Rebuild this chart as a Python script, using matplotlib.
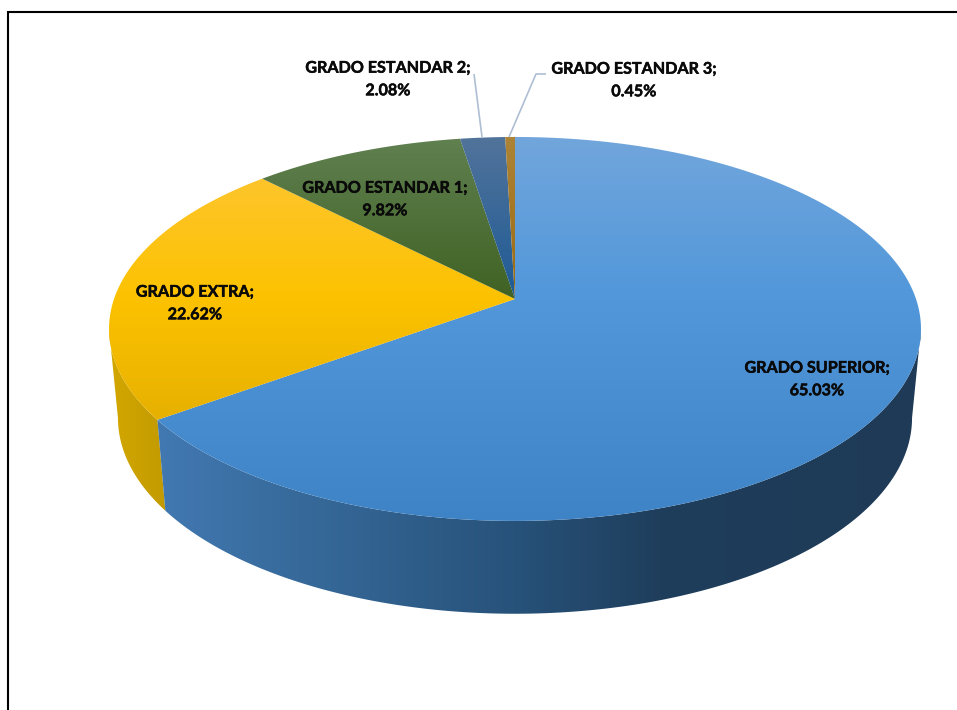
import numpy as np
import matplotlib
matplotlib.use("Agg")
import matplotlib.pyplot as plt
import matplotlib.patheffects as pe
from matplotlib.patches import Polygon
from matplotlib.colors import LinearSegmentedColormap, to_rgb

# ---- data ----
names = ["GRADO SUPERIOR", "GRADO EXTRA", "GRADO ESTANDAR 1", "GRADO ESTANDAR 2", "GRADO ESTANDAR 3"]
values = [65.03, 22.62, 9.82, 2.08, 0.45]

# ---- style ----
top_colors = [
    [(137, "#72a6dc"), (300, "#5197da"), (521, "#3e83c5")],
    [(179, "#fec52c"), (300, "#fcc200"), (421, "#e6b000")],
    [(140, "#608050"), (299, "#3f6223")],
    [(137, "#52749b"), (299, "#1d5a95")],
    [(137, "#ad8438"), (299, "#9c6a10")],
]
side_stops = [
    [(158, "#4279b2"), (300, "#376a9b"), (515, "#27527a"), (660, "#1f3e5c"), (921, "#1e3a56")],
    [(109, "#d4a800"), (165, "#c29a00")],
]
label_pos = [(817, 380), (195, 304), (385, 200), (388, 80), (634, 81)]
leaders = [None, None, None, [(474, 74), (482, 137)], [(546, 74), (536, 74), (509, 137)]]

# projective mapping of the pie disc onto the picture
CX, CY = 515.0, 299.0
A, B, K = 401.0, 187.3, 0.156
THETA_RIGHT = np.pi - np.arccos(K)   # where the rim reaches its rightmost point
THETA_LEFT = np.pi + np.arccos(K)    # and its leftmost point


def top_xy(theta):
    x, y = np.sin(theta), np.cos(theta)
    d = 1 + K * y
    return CX + A * x / d, CY - B * y / d


def bottom_xy(theta):
    X, Y = top_xy(theta)
    return 515 + (X - 515) * 0.978, 418 + (Y - 329) * 1.02


def ramp(stops, v):
    pos = [s[0] for s in stops]
    cols = np.array([to_rgb(s[1]) for s in stops])
    return [float(np.interp(v, pos, cols[:, i])) for i in range(3)]


def gradient_fill(ax, pts, stops, horizontal, zorder, name):
    poly = Polygon(pts, closed=True, facecolor="none", edgecolor="none")
    ax.add_patch(poly)
    lo, hi = stops[0][0], stops[-1][0]
    cmap = LinearSegmentedColormap.from_list(name, [ramp(stops, v) for v in np.linspace(lo, hi, 256)], N=1024)
    ramp01 = np.linspace(0, 1, 1024)
    if horizontal:
        data = ramp01[None, :]
        extent = (min(lo, pts[:, 0].min() - 2), max(hi, pts[:, 0].max() + 2),
                  pts[:, 1].max() + 2, pts[:, 1].min() - 2)
    else:
        data = ramp01[:, None]
        extent = (pts[:, 0].min() - 2, pts[:, 0].max() + 2, hi + 2, lo - 2)
    im = ax.imshow(data, cmap=cmap, extent=extent, aspect="auto", zorder=zorder, interpolation="bilinear")
    im.set_clip_path(poly)


fig = plt.figure(figsize=(9.57, 7.10), dpi=100, facecolor="white")
ax = fig.add_axes([0, 0, 1, 1])
ax.set_xlim(0, 957)
ax.set_ylim(710, 0)
ax.axis("off")

fractions = np.array(values) / np.sum(values)
edges = np.concatenate([[0], np.cumsum(fractions)]) * 2 * np.pi

# sides: only the slices that face the viewer
for i in [1, 0]:
    t = np.linspace(max(edges[i], THETA_RIGHT), min(edges[i + 1], THETA_LEFT), 500)
    xt, yt = top_xy(t)
    xb, yb = bottom_xy(t)
    pts = np.vstack([np.column_stack([xt, yt]), np.column_stack([xb, yb])[::-1]])
    gradient_fill(ax, pts, side_stops[i], True, 1 + (1 - i) * 0.1, f"side{i}")

# top slices with a vertical gradient
for i in range(len(values)):
    t = np.linspace(edges[i], edges[i + 1], 400)
    xs, ys = top_xy(t)
    pts = np.vstack([[CX, CY], np.column_stack([xs, ys])])
    gradient_fill(ax, pts, top_colors[i], False, 2, f"top{i}")
ax.set_xlim(0, 957)
ax.set_ylim(710, 0)

# leader lines and labels
for pos, name, v, lead in zip(label_pos, names, values, leaders):
    if lead:
        ax.plot(*zip(*lead), color="#aebfd4", lw=1.2, zorder=3, solid_capstyle="butt")
    ax.text(pos[0], pos[1], f"{name};\n{v:.2f}%", ha="center", va="center", family="Lato", weight="bold",
            fontsize=11.6, linespacing=1.78, color="#0a0a0a", zorder=4,
            path_effects=[pe.withStroke(linewidth=0.35, foreground="#0a0a0a")])

# frame of the source picture
ax.plot([957, 8, 8], [12, 12, 710], color="black", lw=1.5, zorder=5, solid_joinstyle="miter")

fig.savefig("out.png", dpi=100, facecolor="white")
